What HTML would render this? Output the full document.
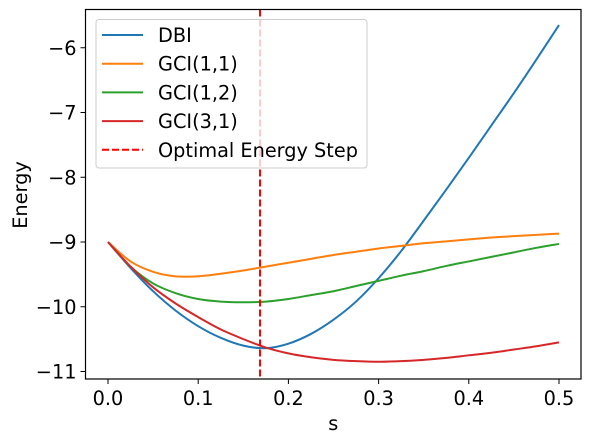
<!DOCTYPE html>
<html><head><meta charset="utf-8"><style>
body{margin:0;background:#fff}
svg{display:block;font-family:"DejaVu Sans","Liberation Sans",sans-serif}
</style></head><body>
<svg id="chart" width="591" height="442">
<g id="plot"></g>
</svg>
<script>
const sValues=[0,0.025,0.05,0.075,0.1,0.125,0.15,0.175,0.2,0.225,0.25,0.275,0.3,0.325,0.35,0.375,0.4,0.425,0.45,0.475,0.5];
const dbi=[-9,-9.4,-9.76,-10.06,-10.3,-10.48,-10.6,-10.64,-10.57,-10.42,-10.2,-9.92,-9.56,-9.14,-8.67,-8.19,-7.7,-7.2,-6.7,-6.18,-5.65];
const gci11=[-9,-9.3,-9.46,-9.53,-9.53,-9.49,-9.44,-9.38,-9.32,-9.26,-9.2,-9.15,-9.1,-9.06,-9.02,-8.99,-8.96,-8.93,-8.91,-8.89,-8.87];
const gci12=[-9,-9.38,-9.64,-9.79,-9.88,-9.92,-9.93,-9.92,-9.88,-9.82,-9.76,-9.68,-9.6,-9.52,-9.45,-9.37,-9.3,-9.23,-9.16,-9.09,-9.03];
const gci31=[-9,-9.38,-9.7,-9.95,-10.16,-10.35,-10.5,-10.63,-10.72,-10.78,-10.82,-10.84,-10.85,-10.84,-10.82,-10.79,-10.75,-10.71,-10.66,-10.61,-10.55];
const optimalS=0.1685;
const xTicks=[0,0.1,0.2,0.3,0.4,0.5];
const xTickLabels=["0.0","0.1","0.2","0.3","0.4","0.5"];
const yTicks=[-11,-10,-9,-8,-7,-6];
const yTickLabels=["\u221211","\u221210","\u22129","\u22128","\u22127","\u22126"];
const seriesNames=["DBI","GCI(1,1)","GCI(1,2)","GCI(3,1)"];
const seriesColors=["#1f77b4","#ff7f0e","#2ca02c","#d62728"];

const L=85.5,R=581,T=9.5,B=379;
const xs=s=>108+s*(559-108)/0.5;
const ys=v=>242-(v+9)*64.75;
const NS="http://www.w3.org/2000/svg";
const svg=document.getElementById('chart');
function mk(tag,attrs,parent){const e=document.createElementNS(NS,tag);for(const k in attrs)e.setAttribute(k,attrs[k]);(parent||svg).appendChild(e);return e;}

function smoothPath(xv,yv){
  const p=xv.map((x,i)=>[xs(x),ys(yv[i])]);
  let d=`M${p[0][0]},${p[0][1]}`;
  for(let i=0;i<p.length-1;i++){
    const p0=p[i-1]||p[i],p1=p[i],p2=p[i+1],p3=p[i+2]||p[i+1];
    const c1=[p1[0]+(p2[0]-p0[0])/6,p1[1]+(p2[1]-p0[1])/6];
    const c2=[p2[0]-(p3[0]-p1[0])/6,p2[1]-(p3[1]-p1[1])/6];
    d+=`C${c1[0]},${c1[1]} ${c2[0]},${c2[1]} ${p2[0]},${p2[1]}`;
  }
  return d;
}
const allSeries=[dbi,gci11,gci12,gci31];
const plot=document.getElementById('plot');
allSeries.forEach((vals,i)=>{
  const path=mk('path',{d:smoothPath(sValues,vals),fill:'none',stroke:seriesColors[i],'stroke-width':2},plot);
  
  
});
const vl=mk('line',{x1:xs(optimalS),x2:xs(optimalS),y1:T,y2:B,stroke:'#ff0000','stroke-width':2,'stroke-dasharray':'7,3'});



const frame=mk('rect',{x:L,y:T,width:R-L,height:B-T,fill:'none',stroke:'#000','stroke-width':1.2});



xTicks.forEach((t,i)=>{
  const x=xs(t);
  const tk=mk('line',{x1:x,x2:x,y1:B,y2:B+5,stroke:'#000','stroke-width':1});
  
  
  const tx=mk('text',{x:x,y:B+26,'text-anchor':'middle','font-size':19.3,fill:'#000'});
  tx.textContent=xTickLabels[i];
  
  
});
yTicks.forEach((t,i)=>{
  const y=ys(t);
  const tk=mk('line',{x1:L-5,x2:L,y1:y,y2:y,stroke:'#000','stroke-width':1});
  
  
  const tx=mk('text',{x:L-9,y:y+7,'text-anchor':'end','font-size':19.3,fill:'#000'});
  tx.textContent=yTickLabels[i];
  
  
});
const xt=mk('text',{x:(L+R)/2,y:430,'text-anchor':'middle','font-size':19.3});
xt.textContent='s';


const yt=mk('text',{x:0,y:0,'text-anchor':'middle','font-size':19.3,transform:'translate(27,195) rotate(-90)'});
yt.textContent='Energy';



const lg=mk('g',{});


mk('rect',{x:96,y:19.5,width:271,height:148.5,rx:3,fill:'#fff','fill-opacity':0.8,stroke:'#ccc','stroke-width':1},lg);
const names=seriesNames.concat(['Optimal Energy Step']);
const cols=seriesColors.concat(['#ff0000']);
names.forEach((n,i)=>{
  const y=35+i*28.7;
  const ln=mk('line',{x1:102,x2:143,y1:y,y2:y,stroke:cols[i],'stroke-width':2},lg);
  if(i===4) ln.setAttribute('stroke-dasharray','7,3');
  
  
  const tx=mk('text',{x:158,y:y+7,'font-size':19.3},lg);
  tx.textContent=n;
  
  
});
</script>
</body></html>
